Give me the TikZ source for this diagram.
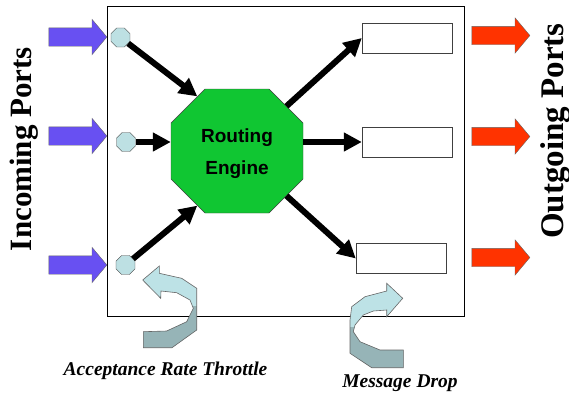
\documentclass[tikz,border=0pt]{standalone}
\usepackage{fontspec}
\setmainfont{Liberation Serif}
\newfontfamily\enginefont{Liberation Sans}
\usepackage{xcolor}
\usepackage{tikz}
\usetikzlibrary{positioning,arrows.meta,shapes.misc,shapes.geometric,shapes.arrows}

\definecolor{inblue}{RGB}{104,80,242}
\definecolor{outred}{RGB}{255,51,0}
\definecolor{enggreen}{RGB}{16,198,50}
\definecolor{portcyan}{RGB}{189,224,227}
\definecolor{turnlight}{RGB}{189,226,230}
\definecolor{turndark}{RGB}{150,180,183}

\newcommand\throttlepath{(142.7,280) -- (159.3,266) -- (159.3,273.3) -- (181.7,278.3)
  -- (196.7,288.3) -- (196.7,330) -- (172,347.7) -- (143.3,347.7) -- (143.3,331.7)
  -- (166.7,331) -- (186.7,321.7) -- (193.3,308.3) -- (190,300) -- (176.7,292.7)
  -- (161,291) -- (160.7,298.3) -- cycle}
\newcommand\droppath{(402.7,298.3) -- (386.7,283.3) -- (386.7,291) -- (365,296.7)
  -- (351.7,306.7) -- (350,320) -- (350,353.3) -- (371.7,367.7) -- (403.3,367.7)
  -- (403.3,350) -- (380,350) -- (360,341.7) -- (353.3,331.7) -- (355,325)
  -- (363.3,315) -- (373.3,311) -- (386.7,310) -- (386.7,316.7) -- cycle}

\begin{document}
\begin{tikzpicture}[x=1pt, y=-1pt,
  frame/.style={draw, line width=0.8pt, minimum width=357pt, minimum height=310pt, inner sep=0pt},
  port/.style={regular polygon, regular polygon sides=8, draw=black!75,
               fill=portcyan, minimum size=20.5pt, inner sep=0pt},
  engine/.style={chamfered rectangle, chamfered rectangle sep=17pt, draw=black!75,
                 fill=enggreen, minimum width=132pt, minimum height=124pt, inner sep=0pt,
                 align=center, text height=50pt, text depth=4pt,
                 font=\enginefont\bfseries\fontsize{19}{32}\selectfont},
  buf/.style={draw=black!75, fill=white, minimum width=90pt, minimum height=30pt, inner sep=0pt},
  inarr/.style={single arrow, single arrow head extend=8.5pt, single arrow tip angle=100,
                draw=black!60, fill=inblue, minimum height=58pt, inner sep=0pt, inner ysep=9pt},
  outarr/.style={inarr, fill=outred},
  flow/.style={-{Triangle[length=18pt,width=18pt]}, line width=6pt},
  uturn/.style={draw=black!60, line width=0.6pt},
  side/.style={font=\bfseries\fontsize{31}{31}\selectfont, rotate=90, anchor=base},
  tag/.style={font=\bfseries\itshape\fontsize{19.5}{19.5}\selectfont, anchor=base}
]
\useasboundingbox (0,0) rectangle (569,394);
\node[frame] (frame) at (285.5,161) {};

\fill[turnlight] \throttlepath;
\begin{scope}
  \clip \throttlepath;
  \fill[turndark] (140,306) rectangle (200,350);
\end{scope}
\draw[uturn] \throttlepath;
\fill[turnlight] \droppath;
\begin{scope}
  \clip \droppath;
  \fill[turndark] (345,327) rectangle (405,370);
\end{scope}
\draw[uturn] \droppath;

\node[engine] (engine) at (237,151) {Routing\\Engine};
\node[port] (inport1) at (120.5,37.5) {};
\node[port] (inport2) at (126,142) {};
\node[port] (inport3) at (125.5,265) {};
\node[buf] (outbuf1) at (407,38) {};
\node[buf] (outbuf2) at (407,142) {};
\node[buf] (outbuf3) at (401,258.5) {};

\node[inarr] (inarr1) at (74,37) {};
\node[inarr] (inarr2) at (74,136) {};
\node[inarr] (inarr3) at (74,265) {};
\node[outarr] (outarr1) at (497,35.5) {};
\node[outarr] (outarr2) at (497,136.5) {};
\node[outarr] (outarr3) at (497,257.5) {};

\draw[flow] (inport1) -- (engine.126);
\draw[flow] (inport2) -- (engine.west |- inport2);
\draw[flow] (inport3) -- (engine.234);
\draw[flow] (engine) -- (outbuf1.west);
\draw[flow] (engine.east |- outbuf2) -- (outbuf2.west);
\draw[flow] (engine) -- (outbuf3.west);

\node[side] (inlabel) at (31,149) {Incoming Ports};
\node[side, font=\bfseries\fontsize{33}{33}\selectfont] (outlabel) at (563,131) {Outgoing Ports};
\node[tag] (throttle) at (165.5,375) {Acceptance Rate Throttle};
\node[tag] (drop) at (400,387) {Message Drop};
\end{tikzpicture}
\end{document}
